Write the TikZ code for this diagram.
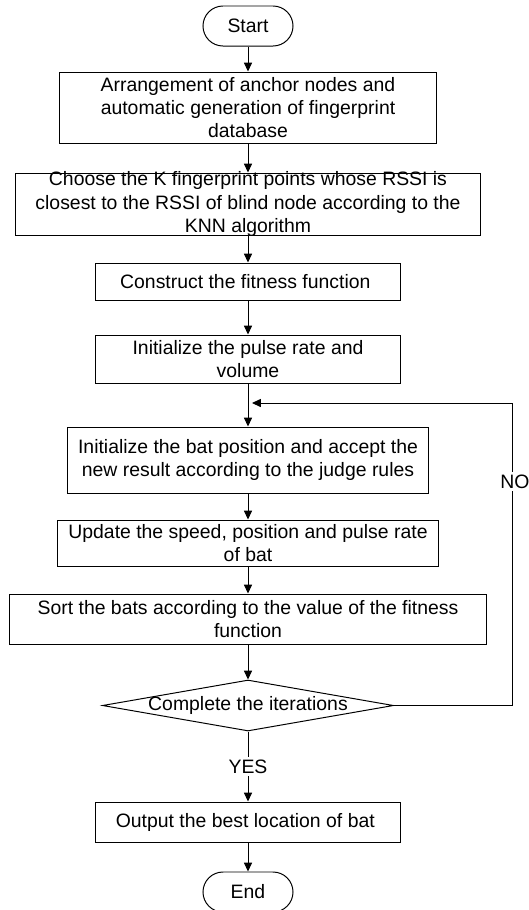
\documentclass[tikz,border=0pt]{standalone}
\usepackage{fontspec}
\setmainfont{Liberation Sans}
\usetikzlibrary{arrows.meta, shapes.geometric}

\begin{document}
\begin{tikzpicture}[
    x=0.025cm, y=-0.025cm,
    font=\fontsize{13.8}{16.4}\selectfont,
    termbox/.style={draw, rounded corners=0.5cm,
        minimum width=2.25cm, minimum height=1cm, inner sep=0pt},
    procbox/.style={draw, align=center, inner sep=0pt},
    decbox/.style={draw, diamond, inner sep=0pt,
        minimum width=7.275cm, minimum height=1.275cm},
    arrow/.style={-{Triangle[length=0.22cm, width=0.2cm]}, line width=0.7pt},
    every node/.append style={line width=0.7pt}
]
\useasboundingbox (0,0) rectangle (528,910);

% Start
\node[termbox] (start) at (248,26) {Start};

% Steps
\node[procbox, minimum width=9.4cm, minimum height=1.775cm] (arrange) at (248,107.5) {
    Arrangement of anchor nodes and\\
    automatic generation of fingerprint\\
    database
};
\node[procbox, minimum width=11.625cm, minimum height=1.55cm,
    label={[align=center]center:Choose the K fingerprint points whose RSSI is\\
    closest to the RSSI of blind node according to the\\
    KNN algorithm}] (knn) at (248,204) {};
\node[procbox, minimum width=7.625cm, minimum height=0.925cm] (fitness) at (248,281.5) {
    Construct the fitness function
};
\node[procbox, minimum width=7.625cm, minimum height=1.2cm] (pulse) at (248,359) {
    Initialize the pulse rate and\\
    volume
};
\node[procbox, minimum width=9cm, minimum height=1.65cm] (batpos) at (248,460) {
    Initialize the bat position and accept the\\
    new result according to the judge rules
};
\node[procbox, minimum width=9.5cm, minimum height=1.15cm] (update) at (248,543) {
    Update the speed, position and pulse rate\\
    of bat
};
\node[procbox, minimum width=11.9cm, minimum height=1.25cm] (sortbats) at (248,619) {
    Sort the bats according to the value of the fitness\\
    function
};

% Decision
\node[decbox, label={center:Complete the iterations}] (iter) at (248,705.5) {};

% Output and end
\node[procbox, minimum width=7.625cm, minimum height=1cm] (output) at (248,822) {
    Output the best location of bat
};
\node[termbox] (stop) at (248,892) {End};

% Loop back points
\coordinate (nobot) at (512,705.5);
\coordinate (notop) at (512,403);
\coordinate (loopin) at (252,403);

\draw[arrow] (start) -- (arrange);
\draw[arrow] (arrange) -- (knn);
\draw[arrow] (knn) -- (fitness);
\draw[arrow] (fitness) -- (pulse);
\draw[arrow] (pulse) -- (batpos);
\draw[arrow] (batpos) -- (update);
\draw[arrow] (update) -- (sortbats);
\draw[arrow] (sortbats) -- (iter);
\draw[arrow] (iter) -- node[fill=white, inner sep=2pt] {YES} (output);
\draw[arrow] (output) -- (stop);
\draw[arrow] (iter.east) -- (nobot)
    -- node[pos=0.74, fill=white, inner sep=2pt, xshift=2pt] {NO} (notop) -- (loopin);

\end{tikzpicture}
\end{document}
